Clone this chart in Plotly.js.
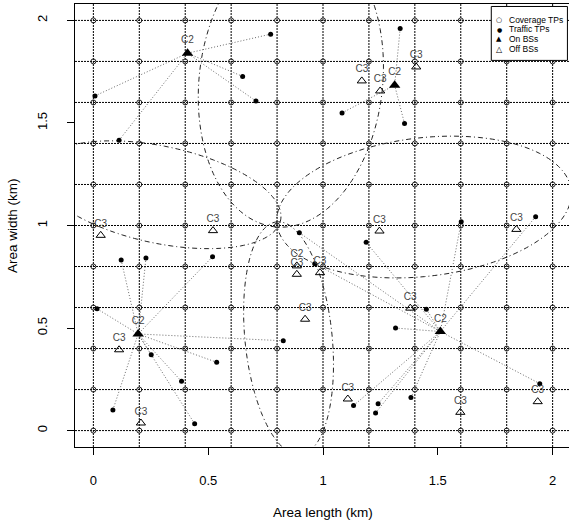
<!DOCTYPE html>
<html><head><meta charset="utf-8">
<script src="https://cdn.plot.ly/plotly-3.0.1.min.js"></script>
<style>html,body{margin:0;padding:0;overflow:hidden;background:#fff}</style>
</head><body><div id="chart" style="width:571px;height:520px"></div>
<script>
// Grid of coverage test points (km)
const gridValues = [0, 0.2, 0.4, 0.6, 0.8, 1, 1.2, 1.4, 1.6, 1.8, 2];
const axisTicks = [0, 0.5, 1, 1.5, 2];
const axisTickText = ['0', '0.5', '1', '1.5', '2'];

// On BSs (filled triangles)
const onBsX = [0.41, 1.312, 0.195, 1.511];
const onBsY = [1.84, 1.684, 0.471, 0.483];
const onBsLabel = ['C2', 'C2', 'C2', 'C2'];

// Off BSs (open triangles)
const offBsX = [1.169, 1.249, 1.406, 0.032, 0.521, 0.886, 0.886, 0.987, 0.922, 0.112, 0.207, 1.246, 1.842, 1.380, 1.108, 1.598, 1.935];
const offBsY = [1.705, 1.656, 1.773, 0.952, 0.975, 0.803, 0.762, 0.770, 0.543, 0.394, 0.037, 0.973, 0.981, 0.597, 0.154, 0.089, 0.141];
const offBsLabel = ['C3', 'C3', 'C3', 'C3', 'C3', 'C2', 'C3', 'C3', 'C3', 'C3', 'C3', 'C3', 'C3', 'C3', 'C3', 'C3', 'C3'];

// Traffic TPs and the On BS (index) serving each
const trafficX = [0.772, 0.650, 0.708, 0.007, 0.112,
                  1.336, 1.083, 1.355,
                  0.121, 0.229, 0.519, 0.016, 0.827, 0.252, 0.537, 0.384, 0.085, 0.441,
                  0.897, 1.602, 1.926, 1.188, 0.964, 1.450, 1.316, 1.944, 1.383, 1.133, 1.240, 1.229];
const trafficY = [1.933, 1.727, 1.607, 1.632, 1.416,
                  1.960, 1.549, 1.497,
                  0.832, 0.842, 0.848, 0.594, 0.438, 0.370, 0.333, 0.240, 0.101, 0.033,
                  0.965, 1.018, 1.043, 0.918, 0.814, 0.592, 0.500, 0.229, 0.161, 0.122, 0.131, 0.086];
const trafficBs = [0, 0, 0, 0, 0,
                   1, 1, 1,
                   2, 2, 2, 2, 2, 2, 2, 2, 2, 2,
                   3, 3, 3, 3, 3, 3, 3, 3, 3, 3, 3, 3];

// Coverage ellipses: centre, semi-axes, rotation (deg)
const ellipseCx = [0.29, 0.86, 1.44, 0.85];
const ellipseCy = [1.15, 1.70, 1.09, 0.45];
const ellipseA = [0.54, 0.71, 0.646, 0.57];
const ellipseB = [0.235, 0.40, 0.337, 0.19];
const ellipseAngle = [-14, 85, 8, 95];

// ---- build ----
const covX = [], covY = [];
gridValues.forEach(gx => gridValues.forEach(gy => { covX.push(gx); covY.push(gy); }));

const linkX = [], linkY = [];
trafficX.forEach((tx, i) => {
  const b = trafficBs[i];
  linkX.push(tx, onBsX[b], null);
  linkY.push(trafficY[i], onBsY[b], null);
});

function ellipsePath(cx, cy, a, b, deg) {
  const th = deg * Math.PI / 180, n = 180;
  let p = '';
  for (let k = 0; k <= n; k++) {
    const t = 2 * Math.PI * k / n;
    const x = cx + a * Math.cos(t) * Math.cos(th) - b * Math.sin(t) * Math.sin(th);
    const y = cy + a * Math.cos(t) * Math.sin(th) + b * Math.sin(t) * Math.cos(th);
    p += (k ? 'L' : 'M') + x.toFixed(4) + ',' + y.toFixed(4);
  }
  return p + 'Z';
}

const shapes = [];
gridValues.forEach(v => {
  shapes.push({type: 'line', layer: 'below', xref: 'x', yref: 'paper', x0: v, x1: v, y0: 0, y1: 1,
               line: {color: '#000', width: 1, dash: '2px,1px'}});
  shapes.push({type: 'line', layer: 'below', xref: 'paper', yref: 'y', x0: 0, x1: 1, y0: v, y1: v,
               line: {color: '#000', width: 1, dash: '2px,1px'}});
});
ellipseCx.forEach((cx, i) => {
  shapes.push({type: 'path', layer: 'below', xref: 'x', yref: 'y',
               path: ellipsePath(cx, ellipseCy[i], ellipseA[i], ellipseB[i], ellipseAngle[i]),
               line: {color: '#222', width: 1, dash: '5px,3px,1px,3px'}});
});
// legend box
shapes.push({type: 'rect', layer: 'above', xref: 'paper', yref: 'paper',
             x0: 0.8393, x1: 0.9928, y0: 0.8727, y1: 0.9944,
             fillcolor: '#fff', line: {color: '#000', width: 1}});

const legendRows = [
  {sym: '○', txt: 'Coverage TPs', y: 0.9644, sz: 7},
  {sym: '●', txt: 'Traffic TPs', y: 0.9426, sz: 6},
  {sym: '▲', txt: 'On BSs', y: 0.9205, sz: 7},
  {sym: '△', txt: 'Off BSs', y: 0.8980, sz: 8}
];
const annotations = [];
legendRows.forEach(r => {
  annotations.push({xref: 'paper', yref: 'paper', x: 0.8554, y: r.y, text: r.sym, showarrow: false,
                    xanchor: 'center', yanchor: 'middle', font: {family: 'DejaVu Sans', size: r.sz, color: '#000'}});
  annotations.push({xref: 'paper', yref: 'paper', x: 0.8709, y: r.y, text: r.txt, showarrow: false,
                    xanchor: 'left', yanchor: 'middle', font: {family: 'Liberation Sans, Arial', size: 8.5, color: '#000'}});
});
// axis titles
annotations.push({xref: 'paper', yref: 'paper', x: 0.5, y: -0.1475, text: 'Area length (km)', showarrow: false,
                  xanchor: 'center', yanchor: 'middle', font: {family: 'Liberation Sans, Arial', size: 13.5, color: '#000'}});
annotations.push({xref: 'paper', yref: 'paper', x: -0.1258, y: 0.5, text: 'Area width (km)', showarrow: false,
                  textangle: -90, xanchor: 'center', yanchor: 'middle', font: {family: 'Liberation Sans, Arial', size: 13.5, color: '#000'}});

const traces = [
  {type: 'scatter', mode: 'lines', x: linkX, y: linkY, hoverinfo: 'skip', showlegend: false,
   line: {color: '#6a6a6a', width: 1, dash: '1px,2px'}},
  {type: 'scatter', mode: 'markers', x: covX, y: covY, name: 'Coverage TPs', showlegend: false,
   marker: {symbol: 'circle-open', size: 5, color: '#222', line: {width: 1}}},
  {type: 'scatter', mode: 'markers', x: trafficX, y: trafficY, name: 'Traffic TPs', showlegend: false,
   marker: {symbol: 'circle', size: 5, color: '#000'}},
  {type: 'scatter', mode: 'markers+text', x: offBsX, y: offBsY, text: offBsLabel, name: 'Off BSs', showlegend: false,
   textposition: 'top center', textfont: {family: 'Liberation Sans, Arial', size: 10, color: '#444'},
   marker: {symbol: 'triangle-up-open', size: 8, color: '#000', line: {width: 1}}},
  {type: 'scatter', mode: 'markers+text', x: onBsX, y: onBsY, text: onBsLabel, name: 'On BSs', showlegend: false,
   textposition: 'top center', textfont: {family: 'Liberation Sans, Arial', size: 10, color: '#444'},
   marker: {symbol: 'triangle-up', size: 10, color: '#000'}},
  // carrier for the tick-label axes
  {type: 'scatter', mode: 'markers', x: [], y: [], xaxis: 'x2', yaxis: 'y2', showlegend: false, hoverinfo: 'skip'}
];

const tickFont = {family: 'Liberation Sans, Arial', size: 13, color: '#000'};
const baseAxis = {
  range: [-0.08, 2.08], showgrid: false, zeroline: false, fixedrange: true,
  tickvals: axisTicks, ticktext: axisTickText
};

const layout = {
  width: 571, height: 520,
  margin: {l: 75.3, r: 0.4, t: 3.5, b: 72.5},
  paper_bgcolor: '#fff', plot_bgcolor: '#fff',
  showlegend: false,
  font: {family: 'Liberation Sans, Arial', color: '#000'},
  xaxis: Object.assign({}, baseAxis, {showline: true, mirror: true, linecolor: '#000', linewidth: 1,
    ticks: 'outside', ticklen: 7, tickcolor: '#000', tickwidth: 1, showticklabels: false}),
  yaxis: Object.assign({}, baseAxis, {showline: true, mirror: true, linecolor: '#000', linewidth: 1,
    ticks: 'outside', ticklen: 7, tickcolor: '#000', tickwidth: 1, showticklabels: false}),
  xaxis2: Object.assign({}, baseAxis, {overlaying: 'x', anchor: 'y2', side: 'bottom', showline: false,
    ticks: 'outside', ticklen: 21, tickcolor: 'rgba(0,0,0,0)', tickfont: tickFont}),
  yaxis2: Object.assign({}, baseAxis, {overlaying: 'y', anchor: 'x2', side: 'left', showline: false,
    ticks: 'outside', ticklen: 22, tickcolor: 'rgba(0,0,0,0)', tickfont: tickFont, tickangle: -90}),
  shapes: shapes,
  annotations: annotations
};

Plotly.newPlot('chart', traces, layout, {displayModeBar: false, staticPlot: true});
</script>
</body></html>
